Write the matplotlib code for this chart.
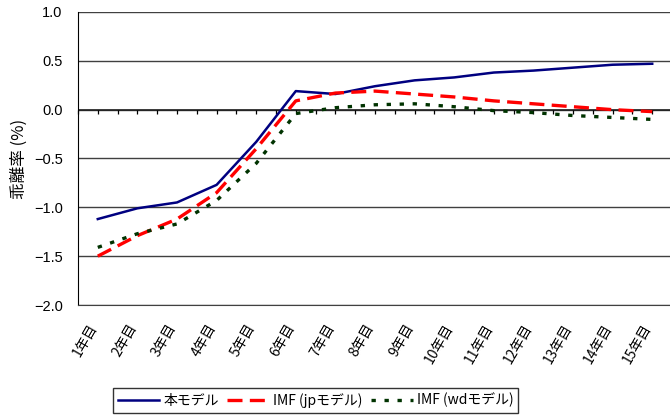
import matplotlib
matplotlib.use("Agg")
import matplotlib.pyplot as plt
from matplotlib.transforms import ScaledTranslation
import numpy as np

plt.rcParams['font.family'] = ['Noto Sans CJK JP', 'DejaVu Sans']

# 年次ラベルと各モデルの乖離率(%)
years = [f"{i}年目" for i in range(1, 16)]
honmodel = [-1.12, -1.01, -0.95, -0.77, -0.33, 0.19, 0.16, 0.24, 0.30, 0.33, 0.38, 0.40, 0.43, 0.46, 0.47]
imf_jp = [-1.50, -1.29, -1.12, -0.85, -0.40, 0.09, 0.17, 0.19, 0.16, 0.13, 0.09, 0.06, 0.03, 0.00, -0.02]
imf_wd = [-1.41, -1.27, -1.17, -0.93, -0.55, -0.04, 0.02, 0.05, 0.06, 0.03, -0.01, -0.03, -0.06, -0.08, -0.10]
yticks = [1.0, 0.5, 0.0, -0.5, -1.0, -1.5, -2.0]

fig = plt.figure(figsize=(6.7, 4.16), dpi=100)
ax = fig.add_axes([0.1164, 0.2668, 0.8866, 0.7044])

x = np.arange(len(years))
ax.plot(x, honmodel, color='#000080', lw=1.8, label='本モデル')
ax.plot(x, imf_jp, color='#FF0000', lw=2.4, dashes=(4.5, 2.2), label='IMF (jpモデル)')
ax.plot(x, imf_wd, color='#003300', lw=2.4, dashes=(1.3, 2.6), label='IMF (wdモデル)')

ax.set_xlim(-0.5, 14.5)
ax.set_ylim(-2.0, 1.0)

# gridlines
for v in yticks:
    ax.axhline(v, color='#404040', lw=1.0, zorder=0)
ax.axhline(0, color='#202020', lw=1.2, zorder=0)

ax.set_yticks(yticks)
ax.set_yticklabels([f"{v:.1f}".replace('-', '\u2212') for v in yticks],
                   family=['Liberation Sans', 'DejaVu Sans'], fontsize=10.5)
ax.tick_params(axis='y', length=0, pad=11)

ax.set_xticks(x)
ax.set_xticklabels(years, rotation=60, ha='right', va='top', rotation_mode='anchor', fontsize=10)
ax.tick_params(axis='x', length=0, pad=12)
shift = ScaledTranslation(-10 / 100, 0, fig.dpi_scale_trans)
for lbl in ax.get_xticklabels():
    lbl.set_transform(lbl.get_transform() + shift)

# small ticks along the zero line
zero_axis = ax.secondary_xaxis(2.0 / 3.0)
zero_axis.set_xticks(np.arange(-0.5, 14.6, 0.5))
zero_axis.tick_params(direction='in', length=3, width=0.9, color='black', labelbottom=False, labeltop=False)
zero_axis.spines['top'].set_visible(False)
zero_axis.spines['bottom'].set_visible(False)

for s in ['top', 'right']:
    ax.spines[s].set_visible(False)
ax.spines['left'].set_color('black')
ax.spines['bottom'].set_color('#404040')

ax.set_ylabel('乖離率 (%)', fontsize=12, labelpad=4)

leg = ax.legend(loc='center', bbox_to_anchor=(0.40, -0.325), ncol=3, frameon=True, fancybox=False,
                edgecolor='black', fontsize=10, handlelength=3.0, handletextpad=0.3, columnspacing=0.6,
                borderpad=0.35, borderaxespad=0)
leg.get_frame().set_linewidth(1.0)

fig.savefig('out.png', dpi=100)
